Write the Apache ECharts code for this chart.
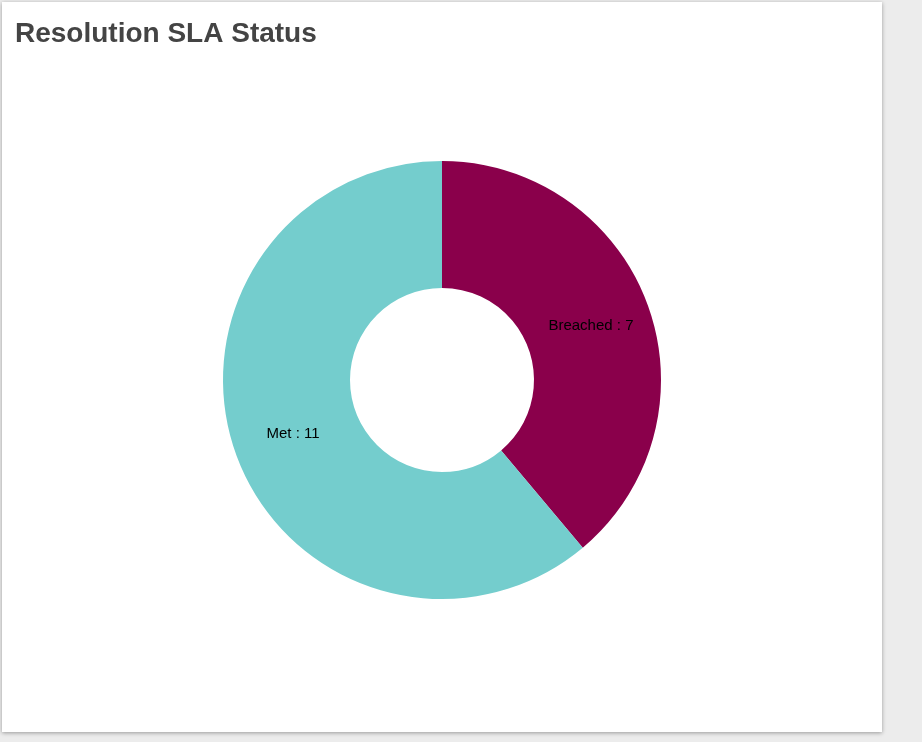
<!DOCTYPE html>
<html><head><meta charset="utf-8">
<script src="https://cdn.jsdelivr.net/npm/echarts@6/dist/echarts.min.js"></script>
<style>
html,body{margin:0;padding:0;background:#ececec;width:922px;height:742px;overflow:hidden}
#card{position:absolute;left:2px;top:2px;width:880px;height:730px;background:#fff;box-shadow:0 1px 4px rgba(0,0,0,0.35)}
#c{width:880px;height:730px}
</style></head><body>
<div id="card"><div id="c"></div></div>
<script>
const categories = ['Breached', 'Met'];
const values = [7, 11];
const colors = ['#8a004b', '#74cdcd'];
const chart = echarts.init(document.getElementById('c'));
chart.setOption({
  animation: false,
  title: {text: 'Resolution SLA Status', left: 8, top: 13,
    textStyle: {fontFamily: 'Liberation Sans, Arial', fontSize: 28, fontWeight: 'bold', color: '#444'}},
  series: [{
    type: 'pie', center: [440, 378], radius: [92, 219], startAngle: 90, clockwise: true,
    data: categories.map((n, i) => ({name: n, value: values[i], itemStyle: {color: colors[i]}})),
    label: {position: 'inside', formatter: '{b} : {c}', color: '#000', fontSize: 15, fontFamily: 'Liberation Sans, Arial'},
    labelLine: {show: false}
  }]
});
</script></body></html>
